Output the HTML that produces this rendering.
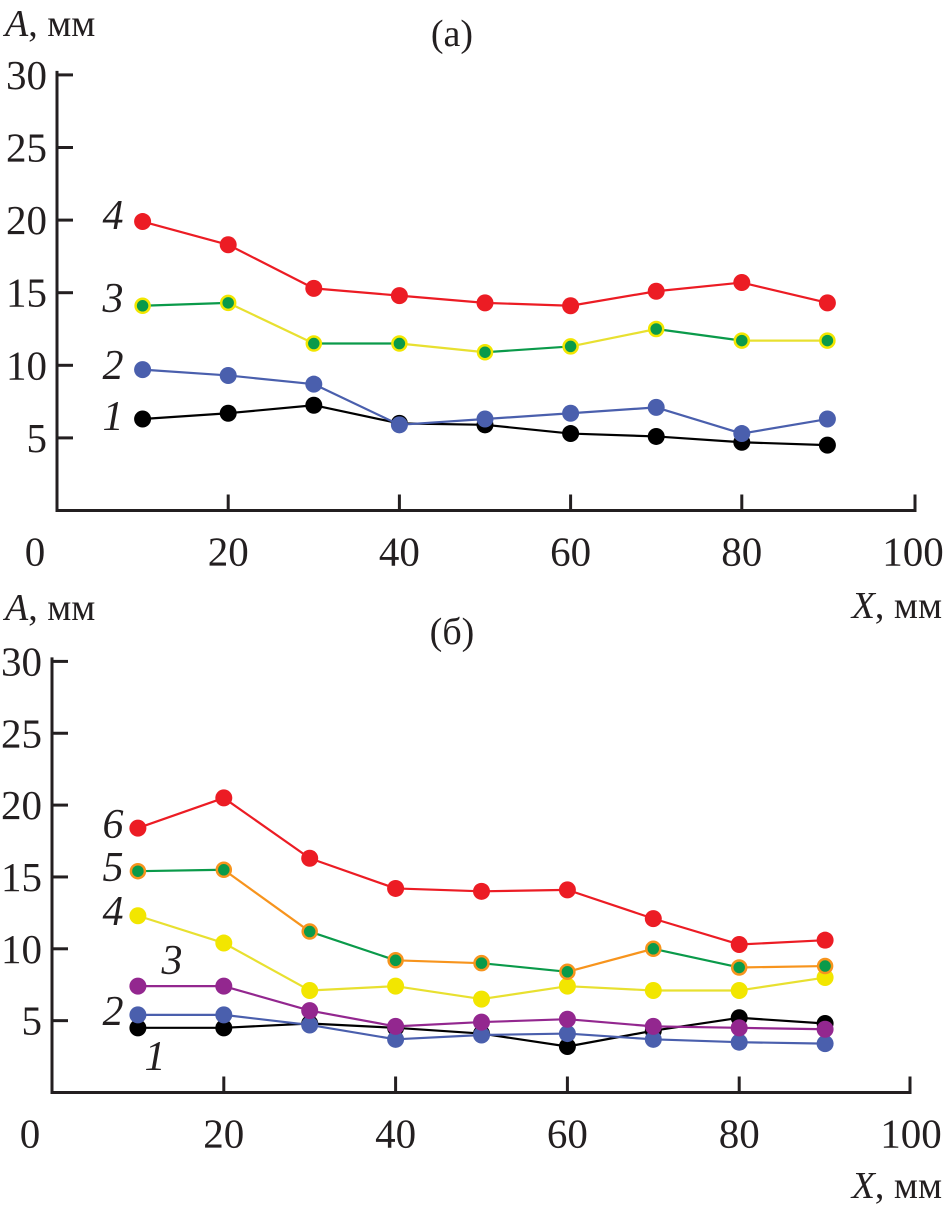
<!DOCTYPE html>
<html><head><meta charset="utf-8"><style>
html,body{margin:0;padding:0;background:#fff;}
svg text{font-family:"Liberation Serif",serif;fill:#231f20;}
</style></head><body>
<svg id="chart" width="945" height="1208" viewBox="0 0 945 1208" xmlns="http://www.w3.org/2000/svg"></svg>
<script>
const xCats = [10,20,30,40,50,60,70,80,90];
const yTicks = [5,10,15,20,25,30];
const xTickLabels = [0,20,40,60,80,100];
// panel (a)
const a1 = [6.3,6.7,7.25,6.0,5.9,5.3,5.1,4.7,4.5];
const a2 = [9.7,9.3,8.7,5.9,6.3,6.7,7.1,5.3,6.3];
const a3 = [14.1,14.3,11.5,11.5,10.9,11.3,12.5,11.7,11.7];
const a4 = [19.9,18.3,15.3,14.8,14.3,14.1,15.1,15.7,14.3];
// panel (b)
const b1 = [4.5,4.5,4.8,4.5,4.1,3.2,4.3,5.2,4.8];
const b2 = [5.4,5.4,4.7,3.7,4.0,4.1,3.7,3.5,3.4];
const b3 = [7.4,7.4,5.7,4.6,4.9,5.1,4.6,4.5,4.4];
const b4 = [12.3,10.4,7.1,7.4,6.5,7.4,7.1,7.1,8.0];
const b5 = [15.4,15.5,11.2,9.2,9.0,8.4,10.0,8.7,8.8];
const b6 = [18.4,20.5,16.3,14.2,14.0,14.1,12.1,10.3,10.6];

const NS="http://www.w3.org/2000/svg";
const svg=document.getElementById('chart');
function mk(tag,attrs,parent){const e=document.createElementNS(NS,tag);for(const k in attrs)e.setAttribute(k,attrs[k]);(parent||svg).appendChild(e);return e;}

function panel(p){
  const g=mk('g',{});
  
  
  const X=v=>p.x0+v*p.kx, Y=v=>p.y0-v*p.ky;
  const ax=mk('path',{d:`M${p.x0} ${Y(30)-4} V${p.y0} H${p.xEnd} V${p.y0-16}`,stroke:'#231f20','stroke-width':3,fill:'none'},g);
  
  
  yTicks.forEach(t=>{
    mk('line',{x1:p.x0,x2:p.x0+16,y1:Y(t),y2:Y(t),stroke:'#231f20','stroke-width':3},g);
    const tx=mk('text',{x:p.x0-10,y:Y(t)+14,'font-size':41,'text-anchor':'end'},g);
    tx.textContent=t;
    
    
  });
  xTickLabels.forEach(t=>{
    if(t>0&&t<100) mk('line',{x1:X(t),x2:X(t),y1:p.y0,y2:p.y0-16,stroke:'#231f20','stroke-width':3},g);
    const tx=mk('text',{x:t===0?X(t)-22:X(t),y:p.y0+55,'font-size':41,'text-anchor':'middle'},g);
    tx.textContent=t;
    
    
  });
  p.series.forEach(s=>{
    const sg=mk('g',{},g);
    
    
    for(let i=0;i<xCats.length-1;i++){
      const c=s.lineColors?s.lineColors[i%s.lineColors.length]:s.line;
      mk('line',{x1:X(xCats[i]),y1:Y(s.vals[i]),x2:X(xCats[i+1]),y2:Y(s.vals[i+1]),stroke:c,'stroke-width':2.2},sg);
    }
    s.vals.forEach((v,i)=>{
      const c=mk('circle',{cx:X(xCats[i]),cy:Y(v),r:s.r||8.5,fill:s.fill,stroke:s.edge||s.fill,'stroke-width':s.edge?2.5:0},sg);
      
      
    });
    const lb=mk('text',{x:s.lx,y:s.ly,'font-size':42,'font-style':'italic','text-anchor':'middle'},sg);
    lb.textContent=s.label;
    
    
  });
}

panel({name:'panel-a',x0:57,kx:8.56,y0:510.5,ky:14.52,xEnd:915,series:[
  {name:'series-a1',vals:a1,fill:'#000',line:'#000',label:'1',lx:113,ly:430},
  {name:'series-a2',vals:a2,fill:'#4a5fad',line:'#4a5fad',label:'2',lx:113,ly:379},
  {name:'series-a3',vals:a3,fill:'#0a9a4a',edge:'#f2e600',r:7,lineColors:['#0a9a4a','#e8e030'],label:'3',lx:113,ly:312},
  {name:'series-a4',vals:a4,fill:'#ec1c24',line:'#ec1c24',label:'4',lx:113,ly:229}
]});
panel({name:'panel-b',x0:52,kx:8.59,y0:1092.5,ky:14.37,xEnd:910,series:[
  {name:'series-b1',vals:b1,fill:'#000',line:'#000',label:'1',lx:155,ly:1070},
  {name:'series-b2',vals:b2,fill:'#4a5fad',line:'#4a5fad',label:'2',lx:113,ly:1025},
  {name:'series-b3',vals:b3,fill:'#93278f',line:'#93278f',label:'3',lx:172,ly:974},
  {name:'series-b4',vals:b4,fill:'#f2e600',line:'#e8e030',label:'4',lx:113,ly:925},
  {name:'series-b5',vals:b5,fill:'#0a9a4a',edge:'#f7941d',r:7,lineColors:['#0a9a4a','#f7941d'],label:'5',lx:113,ly:881},
  {name:'series-b6',vals:b6,fill:'#ec1c24',line:'#ec1c24',label:'6',lx:113,ly:838}
]});

function label(x,y,html,name,anchor){
  const t=mk('text',{x:x,y:y,'font-size':38,'text-anchor':anchor||'start'});
  t.innerHTML=html;
  
  
}
label(5,36,'<tspan font-style="italic">A</tspan>, мм','y-axis-title-a');
label(452,46,'(а)','panel-title-a','middle');
label(942,618,'<tspan font-style="italic">X</tspan>, мм','x-axis-title-a','end');
label(5,620,'<tspan font-style="italic">A</tspan>, мм','y-axis-title-b');
label(452,644,'(б)','panel-title-b','middle');
label(942,1198,'<tspan font-style="italic">X</tspan>, мм','x-axis-title-b','end');
</script>
</body></html>
